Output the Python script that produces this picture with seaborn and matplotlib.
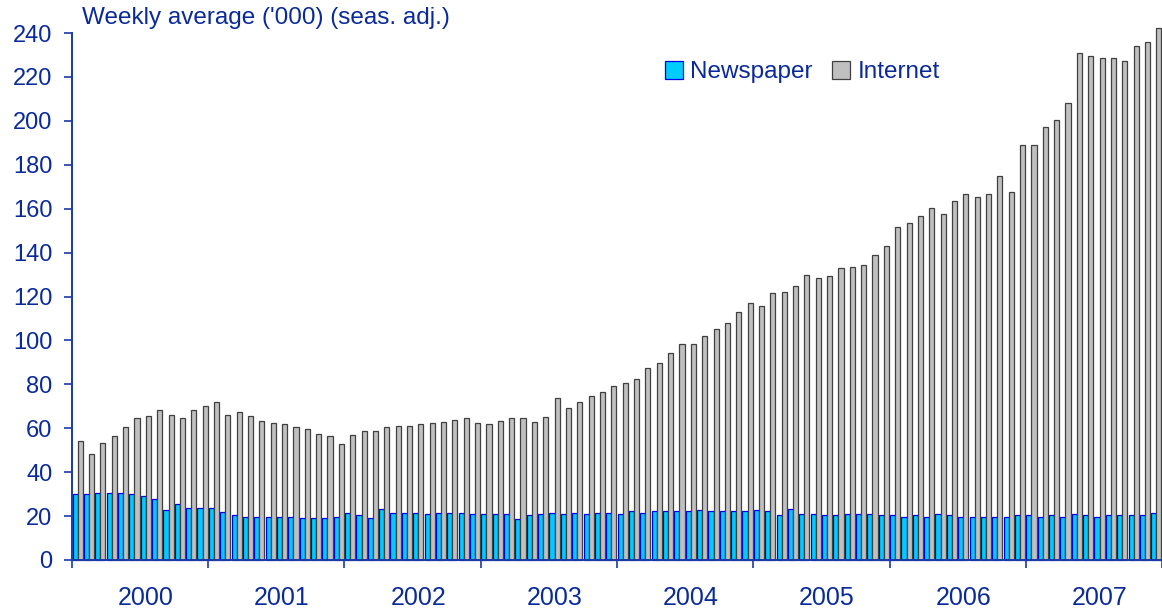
import matplotlib
matplotlib.use("Agg")
import matplotlib.pyplot as plt
from matplotlib.patches import Patch
from matplotlib.ticker import FixedLocator, NullFormatter
import seaborn as sns
import pandas as pd
import numpy as np

# ---- data (monthly, Jan 2000 - Dec 2007) ----
years = ["2000", "2001", "2002", "2003", "2004", "2005", "2006", "2007"]
series_names = ["Newspaper", "Internet"]

newspaper = [
    29.9, 29.9, 30.5, 30.5, 30.5, 29.9, 29.0, 27.8, 22.6, 25.3, 23.8, 23.8,
    23.8, 22.0, 20.3, 19.7, 19.7, 19.7, 19.7, 19.7, 19.3, 19.3, 19.3, 19.7,
    21.5, 20.3, 19.3, 23.4, 21.5, 21.5, 21.5, 20.9, 21.5, 21.5, 21.5, 20.9,
    20.9, 20.9, 20.9, 18.7, 20.3, 20.9, 21.5, 20.9, 21.5, 20.9, 21.5, 21.5,
    20.9, 22.1, 21.5, 22.1, 22.1, 22.1, 22.1, 22.6, 22.1, 22.1, 22.1, 22.1,
    22.6, 22.1, 20.5, 23.4, 20.9, 20.9, 20.5, 20.5, 20.9, 20.9, 20.9, 20.3,
    20.3, 19.7, 20.3, 19.7, 20.9, 20.3, 19.7, 19.7, 19.7, 19.7, 19.7, 20.3,
    20.3, 19.7, 20.3, 19.7, 20.9, 20.3, 19.7, 20.3, 20.3, 20.3, 20.3, 21.4,
]
internet = [
    54.3, 48.3, 53.3, 56.6, 60.6, 64.5, 65.7, 68.4, 66.2, 64.5, 68.4, 70.3,
    71.8, 66.2, 67.4, 65.7, 63.3, 62.4, 61.8, 60.6, 59.5, 57.2, 56.6, 52.6,
    56.7, 58.7, 58.7, 60.6, 61.0, 61.0, 61.9, 62.4, 62.8, 63.9, 64.5, 62.4,
    61.9, 63.3, 64.5, 64.5, 62.8, 65.3, 73.6, 69.0, 71.9, 74.7, 76.3, 79.2,
    80.7, 82.6, 87.6, 89.8, 94.4, 98.3, 98.3, 102.1, 105.0, 107.9, 113.1, 117.0,
    115.9, 121.4, 122.0, 125.0, 129.9, 128.4, 129.5, 132.8, 133.6, 134.5, 139.0, 143.0,
    151.5, 153.3, 156.7, 160.1, 157.7, 163.3, 166.8, 165.2, 166.5, 174.9, 167.4, 188.9,
    188.9, 197.0, 200.3, 208.0, 230.8, 229.7, 228.5, 228.5, 227.4, 234.1, 235.7, 242.2,
]
y_ticks = [0, 20, 40, 60, 80, 100, 120, 140, 160, 180, 200, 220, 240]
title = "Weekly average ('000) (seas. adj.)"

# ---- styling ----
text_col = "#0A2A9A"
axis_col = "#1A3AAA"
face_cols = {"Newspaper": "#00CCFF", "Internet": "#C0C0C0"}
edge_cols = {"Newspaper": "#0000EE", "Internet": "#404040"}

n = len(newspaper)
months = list(range(n))
df = pd.DataFrame({
    "month": months * 2,
    "series": ["Newspaper"] * n + ["Internet"] * n,
    "value": newspaper + internet,
})

sns.set_theme(style="white")
plt.rcParams["font.family"] = ["Liberation Sans", "DejaVu Sans"]

fig = plt.figure(figsize=(11.62, 6.11), dpi=100)
ax = fig.add_axes([72 / 1162, 51 / 611, 1 - 72 / 1162, (560 - 33) / 611])

sns.barplot(data=df, x="month", y="value", hue="series",
            hue_order=series_names, order=months,
            palette=face_cols, width=0.9, gap=0, ax=ax,
            legend=False, errorbar=None, saturation=1)

for cont, name in zip(ax.containers, series_names):
    for p in cont.patches:
        p.set_edgecolor(edge_cols[name])
        p.set_linewidth(0.9)
        p.set_clip_on(False)

ax.set_xlim(-0.5, n - 0.5)
ax.set_ylim(0, 240)
ax.set_yticks(y_ticks)
ax.set_yticklabels([str(v) for v in y_ticks])
ax.set_xlabel("")
ax.set_ylabel("")

# x axis: year labels centred, ticks at year boundaries
centers = [12 * i + 6 for i in range(len(years))]
bounds = [12 * i - 0.5 for i in range(len(years) + 1)]
ax.set_xticks(centers)
ax.set_xticklabels(years)
ax.xaxis.set_minor_locator(FixedLocator(bounds))
ax.xaxis.set_minor_formatter(NullFormatter())
ax.tick_params(axis="x", which="major", length=0, pad=19,
               labelsize=18, labelcolor=text_col)
ax.tick_params(axis="x", which="minor", length=6, width=1.2,
               color=axis_col, direction="out", bottom=True)
ax.tick_params(axis="y", length=6, width=1.2, color=axis_col,
               direction="out", left=True, labelsize=17,
               labelcolor=text_col, pad=8)

for s in ["top", "right"]:
    ax.spines[s].set_visible(False)
for s in ["left", "bottom"]:
    ax.spines[s].set_color(axis_col)
    ax.spines[s].set_linewidth(1.4)

fig.text(82 / 1162, 1 - 18 / 611, title, color=text_col, fontsize=17.5,
         ha="left", va="center")

handles = [Patch(facecolor=face_cols[s], edgecolor=edge_cols[s], linewidth=0.9)
           for s in series_names]
fig.legend(handles, series_names, loc="center left",
           bbox_to_anchor=(655 / 1162, 1 - 72 / 611), ncol=2, frameon=False,
           fontsize=17.5, labelcolor=text_col, handlelength=0.75,
           handleheight=0.75, handletextpad=0.3, columnspacing=0.8,
           borderaxespad=0)

fig.savefig("out.png", dpi=100)
